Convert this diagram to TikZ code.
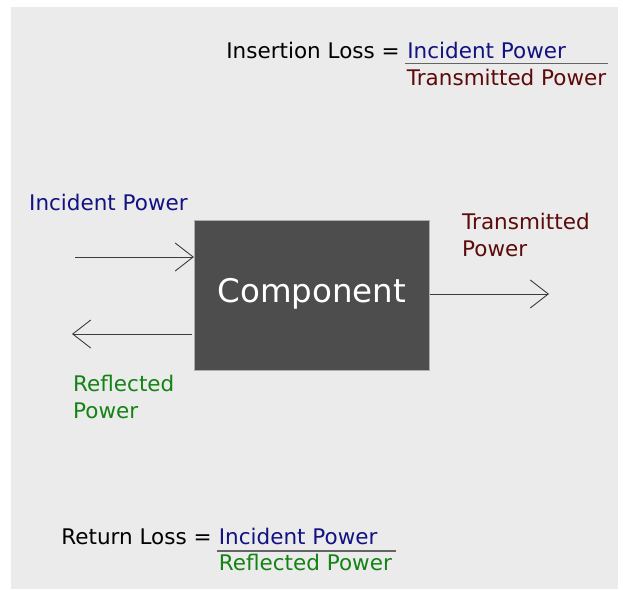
\documentclass[tikz,border=0pt]{standalone}
\usepackage{fontspec}
\setmainfont{DejaVu Sans}
\usetikzlibrary{arrows.meta,calc}

\definecolor{panel}{RGB}{235,235,235}
\definecolor{boxfill}{RGB}{77,77,77}
\definecolor{boxedge}{RGB}{175,175,175}
\definecolor{wire}{RGB}{60,60,60}
\definecolor{incid}{RGB}{18,18,128}
\definecolor{trans}{RGB}{92,10,10}
\definecolor{refl}{RGB}{20,130,20}
\definecolor{barline}{RGB}{100,100,100}

\tikzset{
  txt/.style={inner sep=0pt, anchor=base west, font=\fontsize{21.5}{26.7}\selectfont},
  flow/.style={draw=wire, line width=0.9pt, -{Straight Barb[length=18pt, width=28pt, line width=0.9pt]}},
  fracbar/.style={draw=barline, line width=1.1pt},
  compbox/.style={draw=boxedge, line width=0.8pt, fill=boxfill, text=white,
    minimum width=235pt, minimum height=149.3pt, inner sep=0pt,
    font=\fontsize{32.5}{36}\selectfont, text height=24pt, text depth=9.4pt}
}

\begin{document}
\begin{tikzpicture}[x=1pt, y=-1pt]
  \useasboundingbox (0,0) rectangle (623,589);
  \fill[white] (0,0) rectangle (623,589);
  \fill[panel] (11,7) rectangle (618,589);

  % insertion loss formula
  \node[txt] (ilname) at (226.2,58.3) {Insertion Loss =};
  \node[txt, text=incid] (ilnum) at (407.2,58.3) {Incident Power};
  \node[txt, text=trans] (ilden) at (406.7,85) {Transmitted Power};
  \draw[fracbar] (405,63.7) -- (608,63.7);

  % the component block
  \node[compbox] (box) at (311.8,295.4) {Component};

  % flows in and out of the block
  \coordinate (incStart) at (75,257);
  \coordinate (reflEnd) at (72,334);
  \coordinate (txEnd) at (549,294);
  \draw[flow] (incStart) -- (incStart -| box.west);
  \draw[flow] ([xshift=-2pt]reflEnd -| box.west) -- (reflEnd);
  \draw[flow] (txEnd -| box.east) -- (txEnd);

  % flow labels (multi-line nodes sit on the baseline of their last line)
  \node[txt, text=incid] (inclbl) at (29,210) {Incident Power};
  \node[txt, text=trans, align=left] (txlbl) at (462,256) {Transmitted\\Power};
  \node[txt, text=refl, align=left] (refllbl) at (73,418.3) {Reflected\\Power};

  % return loss formula
  \node[txt] (rlname) at (61.2,544.3) {Return Loss =};
  \node[txt, text=incid] (rlnum) at (218.7,544.3) {Incident Power};
  \node[txt, text=refl] (rlden) at (218.7,570.7) {Reflected Power};
  \draw[fracbar] (217.3,551) -- (396,551);
\end{tikzpicture}
\end{document}
